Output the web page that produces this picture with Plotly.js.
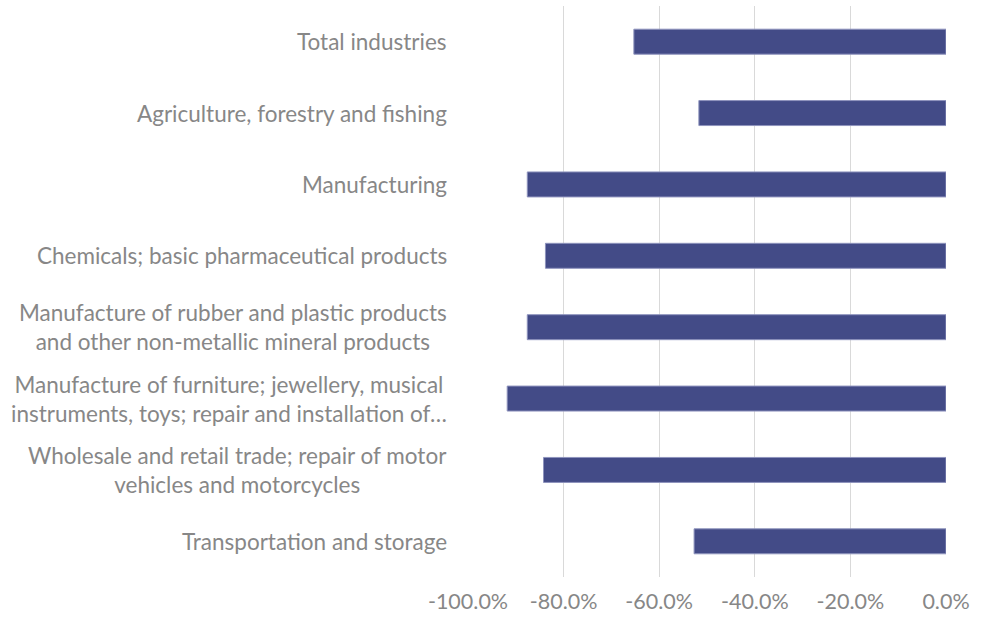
<!DOCTYPE html>
<html>
<head>
<meta charset="utf-8">
<script src="https://cdn.plot.ly/plotly-3.0.1.min.js"></script>
<style>html,body{margin:0;padding:0;background:#fff;}#chart{width:987px;height:623px;}</style>
</head>
<body>
<div id="chart"></div>
<script>
var categories = [
  "Total industries",
  "Agriculture, forestry and fishing",
  "Manufacturing",
  "Chemicals; basic pharmaceutical products",
  "Manufacture of rubber and plastic products<br>and other non-metallic mineral products",
  "Manufacture of furniture; jewellery, musical<br>instruments, toys; repair and installation of\u2026",
  "Wholesale and retail trade; repair of motor<br>vehicles and motorcycles",
  "Transportation and storage"
];
var values = [-65.3, -51.7, -87.6, -83.8, -87.6, -91.8, -84.2, -52.7];
var tickValues = [-100, -80, -60, -40, -20, 0];
var tickLabels = ["-100.0%", "-80.0%", "-60.0%", "-40.0%", "-20.0%", "0.0%"];

var labelFont = {family: "Lato, 'Open Sans', sans-serif", size: 22.5, color: "#878787"};

var annotations = categories.map(function (cat) {
  return {
    xref: "paper", yref: "y", x: 0, y: cat,
    xanchor: "right", yanchor: "middle",
    xshift: -19,
    text: cat, showarrow: false, align: "center",
    font: labelFont
  };
});

var trace = {
  type: "bar", orientation: "h",
  x: values, y: categories,
  marker: {color: "#434b87", line: {color: "#8e93bd", width: 1}},
  width: 0.35,
  hoverinfo: "x+y"
};

var layout = {
  width: 987, height: 623,
  margin: {l: 468, r: 41, t: 6, b: 46},
  paper_bgcolor: "#ffffff", plot_bgcolor: "#ffffff",
  showlegend: false,
  font: {family: "Lato, 'Open Sans', sans-serif", color: "#878787"},
  xaxis: {
    range: [-100, 0], tickvals: tickValues, ticktext: tickLabels,
    showgrid: true, gridcolor: "#d9d9d9", gridwidth: 1,
    zeroline: false, showline: false, ticks: "",
    tickfont: {family: "Lato, 'Open Sans', sans-serif", size: 21.5, color: "#878787"},
    ticklabelstandoff: 9
  },
  yaxis: {
    type: "category", autorange: "reversed",
    showticklabels: false, showgrid: false, zeroline: false, showline: false, ticks: ""
  },
  annotations: annotations
};

Plotly.newPlot("chart", [trace], layout, {displayModeBar: false, staticPlot: true});
</script>
</body>
</html>
